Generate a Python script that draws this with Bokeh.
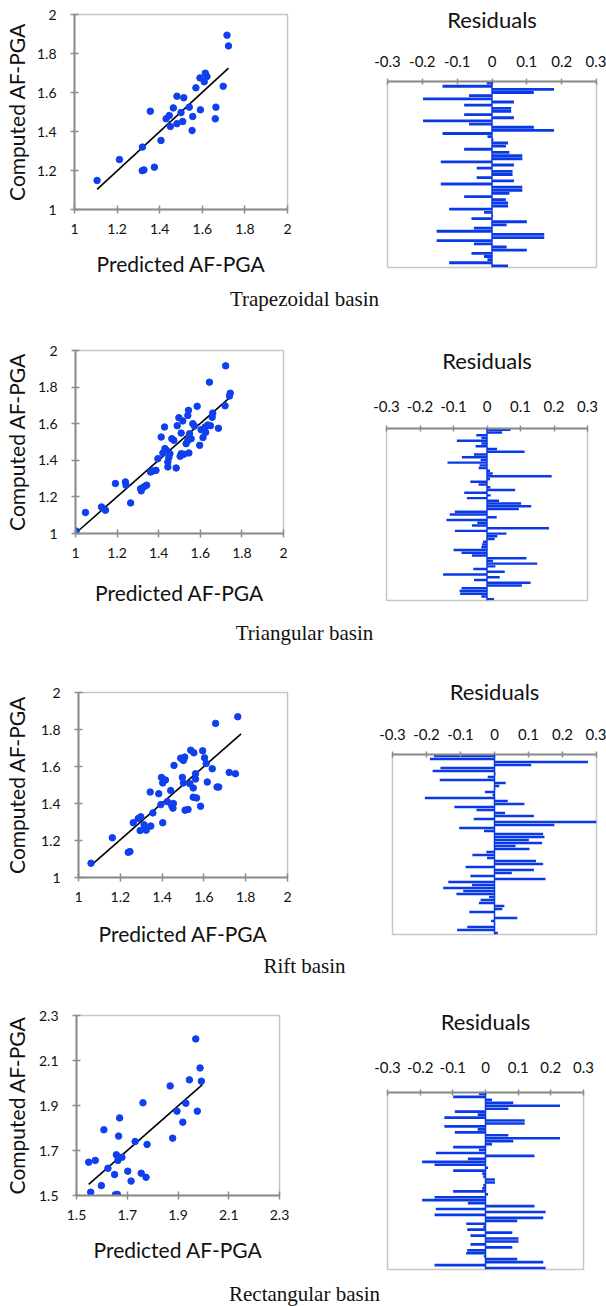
from bokeh.plotting import figure
from bokeh.layouts import column, row
from bokeh.models import Range1d, FixedTicker, Span
from bokeh.embed import file_html
from bokeh.resources import INLINE
from bokeh.core.properties import value

# ---------------- data ----------------
captions = ["Trapezoidal basin", "Triangular basin", "Rift basin", "Rectangular basin"]
x_axis_title = "Predicted AF-PGA"
y_axis_title = "Computed AF-PGA"
resid_title = "Residuals"

ticks_a = [1.0, 1.2, 1.4, 1.6, 1.8, 2.0]
tick_labels_a = ["1", "1.2", "1.4", "1.6", "1.8", "2"]
ticks_b = [1.5, 1.7, 1.9, 2.1, 2.3]
tick_labels_b = ["1.5", "1.7", "1.9", "2.1", "2.3"]
resid_ticks = [-0.3, -0.2, -0.1, 0.0, 0.1, 0.2, 0.3]
resid_tick_labels = ["-0.3", "-0.2", "-0.1", "0", "0.1", "0.2", "0.3"]

trap_pred = [1.106, 1.211, 1.318, 1.319, 1.326, 1.356, 1.375, 1.406, 1.43, 1.445, 1.45, 1.464,
             1.481, 1.481, 1.5, 1.508, 1.513, 1.539, 1.552, 1.555, 1.57, 1.589, 1.591, 1.609,
             1.614, 1.622, 1.661, 1.664, 1.698, 1.716, 1.723]
trap_comp = [1.149, 1.256, 1.199, 1.32, 1.203, 1.504, 1.217, 1.354, 1.465, 1.482, 1.426, 1.521,
             1.581, 1.44, 1.497, 1.451, 1.573, 1.525, 1.405, 1.477, 1.624, 1.675, 1.511, 1.655,
             1.699, 1.682, 1.465, 1.525, 1.632, 1.894, 1.839]
trap_fit_x = [1.106, 1.723]
trap_fit_y = [1.103, 1.725]
trap_resid = [-0.015, -0.142, 0.178, 0.12, -0.066, -0.198, 0.063, -0.08, 0.055, 0.055, -0.08, 0.063,
              -0.198, -0.066, 0.12, 0.178, -0.142, -0.013, 0.004, 0.046, 0.04, -0.08, 0.05, 0.087,
              0.087, -0.147, 0.063, -0.044, 0.059, 0.059, -0.044, 0.063, -0.147, 0.087, 0.087, 0.05,
              -0.08, 0.04, 0.046, 0.046, -0.123, -0.023, 0.003, -0.059, 0.1, 0.042, -0.052, -0.159,
              0.15, 0.15, -0.159, -0.052, 0.042, 0.1, -0.059, -0.023, -0.013, -0.123, 0.046]

tri_pred = [1.003, 1.048, 1.125, 1.144, 1.192, 1.24, 1.243, 1.265, 1.313, 1.316, 1.329, 1.342,
            1.361, 1.372, 1.387, 1.396, 1.412, 1.428, 1.42, 1.43, 1.437, 1.444, 1.444, 1.449,
            1.454, 1.463, 1.473, 1.484, 1.489, 1.497, 1.503, 1.508, 1.508, 1.516, 1.521, 1.532,
            1.54, 1.543, 1.54, 1.545, 1.548, 1.556, 1.564, 1.572, 1.585, 1.597, 1.604, 1.613,
            1.623, 1.626, 1.636, 1.644, 1.649, 1.657, 1.66, 1.687, 1.719, 1.722, 1.74, 1.744]
tri_comp = [1.013, 1.115, 1.145, 1.127, 1.273, 1.282, 1.264, 1.167, 1.245, 1.233, 1.255, 1.264,
            1.336, 1.342, 1.345, 1.409, 1.527, 1.582, 1.44, 1.464, 1.455, 1.364, 1.391, 1.415,
            1.436, 1.518, 1.509, 1.358, 1.589, 1.633, 1.422, 1.549, 1.436, 1.615, 1.433, 1.491,
            1.645, 1.673, 1.509, 1.44, 1.545, 1.518, 1.6, 1.587, 1.695, 1.482, 1.567, 1.524,
            1.582, 1.553, 1.593, 1.827, 1.589, 1.635, 1.658, 1.575, 1.698, 1.916, 1.751, 1.767]
tri_fit_x = [1.003, 1.748]
tri_fit_y = [1.004, 1.749]
tri_resid = [0.07, 0.045, -0.032, -0.017, -0.09, -0.017, -0.034, 0.03, 0.112, -0.039, -0.075, -0.019,
             -0.118, -0.022, -0.025, 0.009, 0.017, 0.193, 0.009, -0.05, -0.025, 0.01, 0.084, -0.068,
             0.011, -0.06, 0.036, 0.102, 0.132, 0.095, -0.096, -0.111, 0.029, -0.121, -0.029, -0.045,
             0.185, -0.096, 0.058, 0.031, 0.023, -0.012, -0.015, -0.017, -0.1, -0.076, -0.045, 0.118,
             0.018, 0.15, 0.025, -0.041, 0.053, -0.131, 0.038, -0.039, 0.13, 0.104, -0.076, -0.082,
             -0.08, -0.017, 0.021]

rift_pred = [1.06, 1.162, 1.238, 1.246, 1.262, 1.286, 1.298, 1.295, 1.314, 1.324, 1.343, 1.346,
             1.356, 1.384, 1.394, 1.397, 1.403, 1.403, 1.416, 1.425, 1.441, 1.446, 1.452, 1.454,
             1.457, 1.489, 1.497, 1.502, 1.502, 1.508, 1.51, 1.524, 1.533, 1.537, 1.552, 1.549,
             1.549, 1.56, 1.56, 1.565, 1.584, 1.594, 1.603, 1.616, 1.611, 1.64, 1.663, 1.656,
             1.671, 1.721, 1.751, 1.762]
rift_comp = [1.077, 1.215, 1.136, 1.14, 1.296, 1.319, 1.328, 1.254, 1.285, 1.256, 1.462, 1.278,
             1.349, 1.453, 1.394, 1.541, 1.511, 1.296, 1.527, 1.41, 1.47, 1.389, 1.375, 1.4,
             1.606, 1.645, 1.541, 1.511, 1.633, 1.651, 1.364, 1.368, 1.507, 1.688, 1.674, 1.484,
             1.434, 1.561, 1.532, 1.43, 1.385, 1.685, 1.647, 1.516, 1.616, 1.588, 1.489, 1.833,
             1.489, 1.568, 1.561, 1.869]
rift_fit_x = [1.06, 1.778]
rift_fit_y = [1.066, 1.776]
rift_resid = [-0.178, -0.19, 0.275, 0.108, -0.159, -0.182, 0.003, -0.02, -0.161, 0.033, 0.014, 0.002,
              -0.028, -0.006, -0.205, 0.039, 0.088, -0.118, -0.053, 0.031, 0.116, -0.061, 0.305, 0.176,
              -0.104, -0.031, 0.143, 0.147, 0.101, 0.14, 0.062, 0.103, -0.024, -0.065, -0.022, 0.122,
              0.143, -0.085, 0.116, 0.051, -0.071, 0.15, -0.136, -0.066, -0.151, -0.092, -0.112, -0.016,
              -0.041, -0.046, 0.029, 0.023, -0.074, 0.001, 0.067, -0.01, 0.002, -0.08, -0.11, 0.01]

rect_pred = [1.548, 1.556, 1.574, 1.598, 1.608, 1.624, 1.65, 1.657, 1.653, 1.661, 1.663, 1.666,
             1.67, 1.679, 1.702, 1.715, 1.731, 1.755, 1.762, 1.774, 1.778, 1.869, 1.879, 1.896,
             1.919, 1.931, 1.945, 1.97, 1.976, 1.987, 1.992]
rect_comp = [1.648, 1.515, 1.656, 1.544, 1.792, 1.621, 1.593, 1.681, 1.503, 1.505, 1.656, 1.764,
             1.845, 1.67, 1.608, 1.564, 1.74, 1.599, 1.912, 1.581, 1.727, 1.987, 1.755, 1.875,
             1.826, 1.91, 2.014, 2.196, 1.875, 2.067, 2.008]
rect_fit_x = [1.548, 1.996]
rect_fit_y = [1.549, 1.993]
rect_resid = [-0.02, -0.099, 0.02, 0.085, 0.228, 0.07, -0.094, -0.024, -0.126, 0.12, 0.12, -0.126,
              -0.024, -0.094, 0.07, 0.228, 0.085, 0.02, -0.099, -0.02, -0.152, 0.15, -0.054, -0.194,
              -0.156, 0.008, -0.099, -0.01, -0.007, 0.029, 0.029, -0.007, -0.01, -0.099, 0.008, -0.156,
              -0.194, -0.054, 0.15, -0.152, 0.184, -0.156, 0.177, 0.097, -0.059, -0.007, -0.056, 0.082,
              -0.046, 0.101, 0.101, -0.046, 0.082, -0.056, -0.059, -0.005, 0.097, 0.177, -0.156, 0.184]

# ---------------- styling / layout ----------------
POINT = "#1040ee"
BAR = "#0a3ae6"
AXIS = "#8c8c8c"
FRAME = "#c6c6c6"
FONT = "Lato"
PAGE_W = 606
SPLIT = 338  # width of scatter figure

# layout positions (page pixels): scatter frame, residual frame, label gaps
blocks = [
    dict(top=0, h=282, cap_h=53, cap_y=298, sf=(73, 14, 287, 209), rf=(387, 81, 596, 267),
         xlab=14, ylab=5, rtick=12, rtitle=20,
         data=(trap_pred, trap_comp, trap_fit_x, trap_fit_y, trap_resid), ticks=(ticks_a, tick_labels_a)),
    dict(top=335, h=275, cap_h=60, cap_y=632, sf=(74, 350, 283, 533), rf=(386, 428, 587, 600),
         xlab=19, ylab=6, rtick=14, rtitle=24,
         data=(tri_pred, tri_comp, tri_fit_x, tri_fit_y, tri_resid), ticks=(ticks_a, tick_labels_a)),
    dict(top=670, h=278, cap_h=37, cap_y=965, sf=(77, 692, 287, 878), rf=(392, 754, 596, 934),
         xlab=16, ylab=9, rtick=12, rtitle=21,
         data=(rift_pred, rift_comp, rift_fit_x, rift_fit_y, rift_resid), ticks=(ticks_a, tick_labels_a)),
    dict(top=985, h=291, cap_h=30, cap_y=1293, sf=(75, 1015, 279, 1195), rf=(387, 1092, 583, 1269),
         xlab=14, ylab=7, rtick=17, rtitle=24,
         data=(rect_pred, rect_comp, rect_fit_x, rect_fit_y, rect_resid), ticks=(ticks_b, tick_labels_b)),
]


def no_align(fig):
    try:
        fig.frame_align = False
    except Exception:
        pass


def style_axis(ax, ticks, labels):
    ax.ticker = FixedTicker(ticks=ticks)
    ax.major_label_overrides = {t: s for t, s in zip(ticks, labels)}
    ax.axis_line_color = AXIS
    ax.axis_line_width = 2
    ax.major_tick_line_color = AXIS
    ax.major_tick_line_width = 1.5
    ax.major_tick_in = 4
    ax.major_tick_out = 4
    ax.minor_tick_line_color = None
    ax.major_label_text_font = FONT
    ax.major_label_text_font_size = "14px"
    ax.major_label_text_color = "#111111"
    ax.axis_label_text_font = FONT
    ax.axis_label_text_font_style = "normal"
    ax.axis_label_text_color = "#111111"


rows = []
for k, b in enumerate(blocks):
    pred, comp, fx, fy, resid = b["data"]
    ticks, labels = b["ticks"]
    top, h = b["top"], b["h"]
    l, t, r, bt = b["sf"]
    s = figure(width=SPLIT, height=h, output_backend="svg", toolbar_location=None,
               x_range=Range1d(ticks[0], ticks[-1]), y_range=Range1d(ticks[0], ticks[-1]),
               min_border_left=l, min_border_right=SPLIT - r,
               min_border_top=t - top, min_border_bottom=top + h - bt)
    no_align(s)
    s.grid.visible = False
    s.outline_line_color = FRAME
    s.outline_line_width = 1.5
    for ax in (s.xaxis[0], s.yaxis[0]):
        style_axis(ax, ticks, labels)
    s.xaxis.axis_label = x_axis_title
    s.yaxis.axis_label = y_axis_title
    s.xaxis.axis_label_text_font_size = "21px"
    s.yaxis.axis_label_text_font_size = "21px"
    s.xaxis.major_label_standoff = 10
    s.yaxis.major_label_standoff = 14
    s.xaxis.axis_label_standoff = b["xlab"]
    s.yaxis.axis_label_standoff = b["ylab"]
    s.line(fx, fy, line_color="black", line_width=1.6)
    s.scatter(pred, comp, size=6.5, fill_color=POINT, line_color=POINT)

    rl, rt, rr, rb = b["rf"]
    rw = PAGE_W - SPLIT
    n = len(resid)
    idx = list(range(1, n + 1))
    q = figure(width=rw, height=h, output_backend="svg", toolbar_location=None,
               x_range=Range1d(resid_ticks[0], resid_ticks[-1]), y_range=Range1d(n + 0.5, 0.5),
               x_axis_location="above",
               min_border_left=rl - SPLIT, min_border_right=PAGE_W - rr,
               min_border_top=rt - top, min_border_bottom=top + h - rb)
    no_align(q)
    q.grid.visible = False
    q.outline_line_color = FRAME
    q.outline_line_width = 1.5
    q.yaxis.visible = False
    style_axis(q.xaxis[0], resid_ticks, resid_tick_labels)
    q.xaxis.major_tick_in = 3
    q.xaxis.major_tick_out = 3
    q.xaxis.major_label_text_font_size = "15px"
    q.xaxis.major_label_standoff = b["rtick"]
    q.xaxis.axis_label = resid_title
    q.xaxis.axis_label_text_font_size = "22px"
    q.xaxis.axis_label_standoff = b["rtitle"]
    q.hbar(y=idx, left=0, right=resid, height=0.9, fill_color=BAR, line_color=None)
    q.add_layout(Span(location=0, dimension="height", line_color=BAR, line_width=1.5))

    ch = b["cap_h"]
    c = figure(width=PAGE_W, height=ch, output_backend="svg", toolbar_location=None,
               x_range=Range1d(0, PAGE_W), y_range=Range1d(0, ch), min_border=0)
    no_align(c)
    c.axis.visible = False
    c.grid.visible = False
    c.outline_line_color = None
    c.text(x=[304], y=[top + h + ch - b["cap_y"]], text=[captions[k]],
           text_font=value("Liberation Serif"), text_font_size="21px",
           text_align="center", text_baseline="middle", text_color="#111111")
    rows.append(row(s, q))
    rows.append(c)

layout = column(*rows)
open("out.html", "w").write(file_html(layout, INLINE))
